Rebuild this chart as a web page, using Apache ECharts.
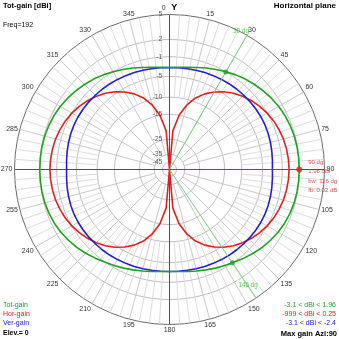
<!DOCTYPE html>
<html><head><meta charset="utf-8">
<script src="https://cdn.jsdelivr.net/npm/echarts@6/dist/echarts.min.js"></script>
<style>html,body{margin:0;padding:0;background:#fff}#c{width:339px;height:339px}</style>
</head><body><div id="c"></div>
<script>
// ---- data ----
const angles = [0,5,10,15,20,25,30,35,40,45,50,55,60,65,70,75,80,85,90,
  95,100,105,110,115,120,125,130,135,140,145,150,155,160,165,170,175,180,
  185,190,195,200,205,210,215,220,225,230,235,240,245,250,255,260,265,270,
  275,280,285,290,295,300,305,310,315,320,325,330,335,340,345,350,355];
const totGain = [-3.1,-3.01,-2.76,-2.38,-1.92,-1.45,-0.97,-0.49,-0.03,0.36,0.74,1.07,1.37,1.59,1.75,1.87,1.93,1.95,1.96,
  1.95,1.92,1.85,1.72,1.52,1.25,0.9,0.5,0.05,-0.45,-0.95,-1.35,-1.75,-2.15,-2.5,-2.8,-3.02,-3.1,
  -3.02,-2.8,-2.5,-2.15,-1.75,-1.35,-0.95,-0.45,0.05,0.5,0.9,1.25,1.52,1.72,1.85,1.92,1.95,1.96,
  1.95,1.93,1.87,1.75,1.59,1.37,1.07,0.74,0.36,-0.03,-0.49,-0.97,-1.45,-1.92,-2.38,-2.76,-3.01];
const horGain = [-999,-21,-15,-11.5,-9,-7.2,-5.8,-4.6,-3.6,-2.8,-2.1,-1.5,-1.0,-0.6,-0.3,-0.05,0.1,0.2,0.25,
  0.2,0.1,-0.05,-0.3,-0.6,-1.0,-1.5,-2.1,-2.8,-3.6,-4.6,-5.8,-7.2,-9,-11.5,-15,-21,-999,
  -21,-15,-11.5,-9,-7.2,-5.8,-4.6,-3.6,-2.8,-2.1,-1.5,-1.0,-0.6,-0.3,-0.05,0.1,0.2,0.25,
  0.2,0.1,-0.05,-0.3,-0.6,-1.0,-1.5,-2.1,-2.8,-3.6,-4.6,-5.8,-7.2,-9,-11.5,-15,-21];
const verGain = [-3.1,-3.08,-3.03,-2.95,-2.87,-2.79,-2.7,-2.62,-2.55,-2.5,-2.45,-2.42,-2.4,-2.43,-2.5,-2.6,-2.72,-2.84,-2.92,
  -2.84,-2.72,-2.6,-2.5,-2.43,-2.4,-2.42,-2.45,-2.5,-2.55,-2.62,-2.7,-2.79,-2.87,-2.95,-3.03,-3.08,-3.1,
  -3.08,-3.03,-2.95,-2.87,-2.79,-2.7,-2.62,-2.55,-2.5,-2.45,-2.42,-2.4,-2.43,-2.5,-2.6,-2.72,-2.84,-2.92,
  -2.84,-2.72,-2.6,-2.5,-2.43,-2.4,-2.42,-2.45,-2.5,-2.55,-2.62,-2.7,-2.79,-2.87,-2.95,-3.03,-3.08];
const gridDb = [5,2,-1,-5,-10,-15,-25,-35,-45];
const gridLabels = ['5','2','-1','-5','-10','-15','-25','-35','-45'];
const beamAngles = [30,146];
const beamLabels = ['30 dg','146 dg'];
const beamGain = -1.04;
const maxAngle = 90;
const maxGain = 1.96;
const maxInfo = ['90 dg','1.96 dBi','bw: 116 dg','fb: 0.02 dB'];
const legendNames = ['Tot-gain','Hor-gain','Ver-gain'];
const legendRanges = ['-3.1 < dBi < 1.96','-999 < dBi < 0.25','-3.1 < dBi < -2.4'];
const titleText = 'Tot-gain [dBi]';
const freqText = 'Freq=192';
const planeText = 'Horizontal plane';
const elevText = 'Elev.= 0';
const maxText = 'Max gain Azi:90';

// ---- log-like radial scale (dB -> normalized radius) ----
const TOP = 5, KA = 0.0333, KB = 0.000456, KC = 0.0416;
function rad(db){ if (db < -100) return 0; const d = TOP - db; return Math.exp(-(KA*d + KB*d*d + KC*Math.sqrt(d))); }

const FONT = '"Liberation Sans", Arial, sans-serif';
const C_TOT = '#22a022', C_HOR = '#dd2020', C_VER = '#2020d0';
const series = [];
function lineS(data, color, width, z){
  return {type:'line', coordinateSystem:'polar', data, symbol:'none', silent:true,
    animation:false, lineStyle:{color, width}, z};
}
// grid circles
const circleAngles = []; for (let a = 0; a <= 360; a += 2) circleAngles.push(a);
gridDb.slice(1).forEach(db => { const r = rad(db); series.push(lineS(circleAngles.map(a => [r, a]), '#bdbdbd', 1, 1)); });
// spokes
for (let i = 0; i < 96; i++) {
  if (i % 24 === 0) continue;
  const a = i * 3.75, major = i % 4 === 0;
  const r0 = major ? rad(-35) : rad(-10);
  series.push(lineS([[r0, a], [1, a]], major ? '#c8c8c8' : '#dcdcdc', 1, 1));
}
// axis cross
series.push(lineS([[1, 0], [1, 180]], '#505050', 1, 2));
series.push(lineS([[1, 90], [1, 270]], '#505050', 1, 2));
// patterns
const closed = arr => angles.map((a, i) => [rad(arr[i]), a]).concat([[rad(arr[0]), 360]]);
series.push(lineS(closed(horGain), C_HOR, 1.6, 3));
series.push(lineS(closed(verGain), C_VER, 1.6, 3));
series.push(lineS(closed(totGain), C_TOT, 1.6, 3));
// beamwidth lines
beamAngles.forEach(a => series.push(lineS([[0, a], [1, a]], '#80d080', 1, 4)));
series.push(lineS([[0, maxAngle], [rad(maxGain), maxAngle]], C_HOR, 1, 4));
// dots
series.push({type:'scatter', coordinateSystem:'polar', silent:true, animation:false, z:5,
  data: beamAngles.map(a => [rad(beamGain), a]), symbolSize:5, itemStyle:{color:C_TOT}});
series.push({type:'scatter', coordinateSystem:'polar', silent:true, animation:false, z:5,
  data: [[rad(maxGain), maxAngle]], symbolSize:6, itemStyle:{color:C_HOR},
  label:{show:true, position:'right', distance:6, offset:[0,7], formatter: maxInfo.join('\n'),
    color:C_HOR, fontSize:6, lineHeight:9.5, fontFamily:FONT}});
// beam labels
const beamOffsets = [[-6,-4],[-8,-13]];
series.push({type:'scatter', coordinateSystem:'polar', silent:true, animation:false, z:5, symbolSize:0,
  data: beamAngles.map((a, i) => ({value:[1, a], label:{show:true, position:'inside', offset:beamOffsets[i],
    formatter: beamLabels[i], color:'#30b030', fontSize:6.3, fontFamily:FONT}}))});
// radial labels
series.push({type:'scatter', coordinateSystem:'polar', silent:true, animation:false, z:5, symbolSize:0,
  data: gridDb.map((db, i) => ({value:[rad(db), 0], label:{formatter: gridLabels[i]}})),
  label:{show:true, position:'left', distance:7, color:'#333', fontSize:7, fontFamily:FONT}});

function txt(x, y, text, fill, font, align){
  return {type:'text', x, y, silent:true, style:{text, fill, font, align: align || 'left', verticalAlign:'middle'}};
}
const g = [
  txt(3, 6, titleText, '#000', 'bold 7.5px ' + FONT),
  txt(3, 25, freqText, '#000', '7px ' + FONT),
  txt(336, 6, planeText, '#000', 'bold 8px ' + FONT, 'right'),
  txt(3, 333, elevText, '#000', 'bold 7px ' + FONT),
  txt(337, 334, maxText, '#000', 'bold 7.5px ' + FONT, 'right')
];
const cols = [C_TOT, C_HOR, C_VER];
legendNames.forEach((n, i) => g.push(txt(3, 305 + i*9, n, cols[i], '7px ' + FONT)));
legendRanges.forEach((n, i) => g.push(txt(336, 305 + i*9, n, cols[i], '7px ' + FONT, 'right')));

const chart = echarts.init(document.getElementById('c'), null, {renderer:'canvas'});
chart.setOption({
  animation:false,
  polar:{center:['50%','50%'], radius:155},
  angleAxis:{type:'value', min:0, max:360, interval:15, startAngle:90, clockwise:true,
    axisLine:{show:true, lineStyle:{color:'#6a6a6a', width:1}},
    axisTick:{show:false}, splitLine:{show:false},
    axisLabel:{show:true, margin:2, color:'#333', fontSize:7, fontFamily:FONT,
      formatter: v => v === 0 ? '{n|0}   {y|Y}' : (v === 360 ? '' : String(v)),
      rich:{n:{fontSize:7, color:'#333', fontFamily:FONT}, y:{fontSize:9, color:'#000', fontWeight:'bold', fontFamily:FONT}}}},
  radiusAxis:{type:'value', min:0, max:1, axisLine:{show:false}, axisTick:{show:false},
    axisLabel:{show:false}, splitLine:{show:false}},
  series,
  graphic:g
});
</script></body></html>
